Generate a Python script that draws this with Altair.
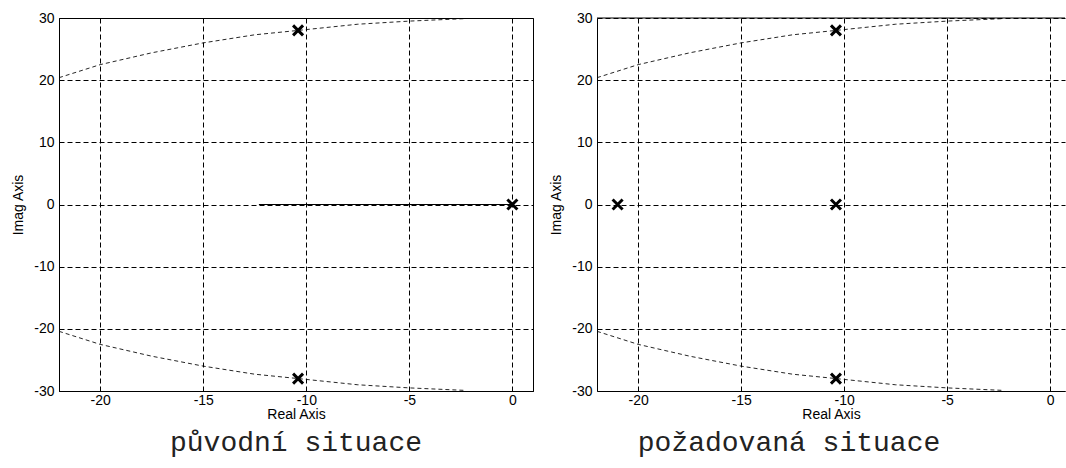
import altair as alt
import pandas as pd

# ---- data ----
left_pole_re = [-10.4, -10.4, 0.0]
left_pole_im = [28.0, -28.0, 0.0]
right_pole_re = [-21.0, -10.4, -10.4, -10.4]
right_pole_im = [0.0, 28.0, 0.0, -28.0]

# solid root-locus branch on the real axis (left panel only)
locus_re = [-12.3, 0.0]
locus_im = [0.0, 0.0]

# dashed natural-frequency curve (upper half, lower is its mirror)
curve_re = [-22.0, -20.0, -17.5, -15.0, -12.5, -10.4, -7.5, -5.0, -2.3]
curve_im = [20.4, 22.5, 24.4, 26.0, 27.3, 28.0, 29.0, 29.5, 29.9]

x_ticks = [-20, -15, -10, -5, 0]
y_ticks = [-30, -20, -10, 0, 10, 20, 30]
titles = ["původní situace", "požadovaná situace"]

LABEL_FONT = "Liberation Sans"
GRID_DASH = [5, 3]


def curve_frame():
    up = pd.DataFrame({"re": curve_re, "im": curve_im, "branch": "up"})
    lo = pd.DataFrame({"re": curve_re, "im": [-v for v in curve_im], "branch": "lo"})
    return pd.concat([up, lo], ignore_index=True)


def axis(title, label_pad, title_pad):
    return alt.Axis(values=x_ticks if title.startswith("Real") else y_ticks,
                    title=title, grid=True, ticks=False,
                    gridDash=GRID_DASH, gridColor="black", gridOpacity=1,
                    domainColor="black", labelFont=LABEL_FONT, labelFontSize=14,
                    labelColor="black", labelPadding=label_pad, labelFlush=False,
                    labelExpr="'' + datum.value",
                    titleFont=LABEL_FONT, titleFontSize=14, titleFontWeight="normal",
                    titleColor="black", titlePadding=title_pad)


def panel(pole_re, pole_im, xmax, width, title, dx, with_locus, border):
    xs = alt.Scale(domain=[-22, xmax], nice=False, zero=False)
    ys = alt.Scale(domain=[-30, 30], nice=False, zero=False)

    curves = alt.Chart(curve_frame()).mark_line(
        color="black", strokeWidth=1, strokeDash=[4, 3], opacity=0.85, clip=True
    ).encode(
        x=alt.X("re:Q", scale=xs, axis=axis("Real Axis", 2, 0)),
        y=alt.Y("im:Q", scale=ys, axis=axis("Imag Axis", 5, 8)),
        detail="branch:N",
    )
    layers = [curves]
    if with_locus:
        layers.append(
            alt.Chart(pd.DataFrame({"re": locus_re, "im": locus_im})).mark_line(
                color="black", strokeWidth=1
            ).encode(x="re:Q", y="im:Q")
        )
    if not border:
        # top frame line (the right edge of this panel is cut off in the reference)
        layers.append(
            alt.Chart(pd.DataFrame({"a": [0]})).mark_rule(color="black", strokeWidth=1).encode(
                x=alt.datum(-22), x2=alt.datum(xmax), y=alt.datum(30)
            )
        )
    layers.append(
        alt.Chart(pd.DataFrame({"re": pole_re, "im": pole_im})).mark_point(
            shape="M-1,-1L1,1M-1,1L1,-1", size=100, strokeWidth=3,
            color="black", filled=False, opacity=1
        ).encode(x="re:Q", y="im:Q")
    )
    ch = alt.layer(*layers).properties(
        width=width, height=373,
        title=alt.TitleParams(title, orient="bottom", font="Liberation Mono",
                              fontSize=28, fontWeight="normal", color="#222222",
                              anchor="middle", frame="group", dx=dx, offset=8),
    )
    if not border:
        ch = ch.properties(view=alt.ViewBackground(stroke="transparent"))
    return ch


left = panel(left_pole_re, left_pole_im, 1.0, 474, titles[0], 0, True, True)
right = panel(right_pole_re, right_pole_im, 0.72, 468, titles[1], -42, False, False)

chart = alt.hconcat(left, right, spacing=64, bounds="flush").properties(
    padding={"left": 11, "top": 10, "right": 0, "bottom": 6},
    background="white",
).configure_view(stroke="black", strokeWidth=1)

chart.save("out.html", embed_options={"renderer": "svg", "actions": False})
